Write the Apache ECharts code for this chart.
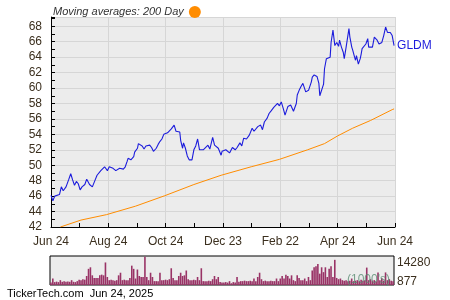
<!DOCTYPE html>
<html><head><meta charset="utf-8">
<script src="https://cdn.jsdelivr.net/npm/echarts@6/dist/echarts.min.js"></script>
<style>html,body{margin:0;padding:0;background:#fff}#c{width:450px;height:300px}</style>
</head><body><div id="c"></div>
<script>
// x axis tick labels (calendar days from 2024-06-24, one tick every 61 days)
const xTickLabels = ['Jun 24','Aug 24','Oct 24','Dec 23','Feb 22','Apr 24','Jun 24'];
// GLDM closing price: day offset from Jun 24 2024, value
const priceDays = [0,2,4,6,9,11,13,15,16,19,21,23,25,27,29,31,33,36,38,39,41,44,47,49,50,53,55,57,58,60,62,64,66,68,69,71,73,75,77,79,81,82,84,85,86,88,89,92,93,94,97,99,101,103,105,107,109,110,112,114,116,118,120,122,124,126,128,131,133,135,137,138,140,141,143,145,147,150,152,154,156,158,160,162,164,167,169,172,174,176,178,181,182,184,186,188,190,193,196,198,201,203,205,208,211,214,216,220,223,225,227,230,232,234,237,239,241,243,245,247,249,250,252,255,258,261,262,264,266,268,271,274,277,278,280,282,283,285,286,288,290,291,293,295,297,298,300,301,302,304,306,307,309,311,312,314,317,318,320,321,323,324,325,327,329,330,331,333,335,337,338,340,342,344,346,347,349,352,354,356,358,360,361,363,365];
const priceValues = [46.1,45.4,46.0,46.1,46.2,47.2,46.7,46.9,47.2,48.2,48.9,48.1,47.4,47.9,47.6,46.8,47.2,47.5,48.2,48.4,47.5,47.2,48.1,48.7,48.9,49.3,49.5,49.8,49.6,49.3,49.8,49.9,49.6,49.5,49.3,49.5,49.6,49.4,49.5,49.8,50.5,50.9,51.1,50.7,50.45,51.1,51.7,52.2,52.8,52.7,52.5,52.1,52.5,52.5,52.6,52.3,51.8,51.7,52.2,52.7,53.1,53.4,54.0,53.8,54.2,54.4,54.7,55.2,54.4,54.3,54.3,53.2,52.2,52.9,52.2,51.2,50.7,50.7,52.0,52.5,53.4,52.0,52.1,52.0,52.2,52.6,52.1,53.6,52.6,52.4,52.2,51.3,51.8,51.7,52.0,52.0,51.6,52.3,52.0,52.3,52.9,52.5,53.5,53.4,53.9,54.8,54.4,55.0,55.2,54.6,55.6,56.1,56.7,57.0,57.5,57.7,58.0,57.7,58.2,57.4,56.5,56.6,57.6,57.8,57.0,58.0,59.1,59.7,60.2,60.6,59.5,59.7,60.8,61.4,61.7,61.8,61.5,60.6,59.0,58.9,60.5,62.5,63.8,63.6,64.0,65.9,67.5,67.7,65.5,65.9,65.4,66.2,65.3,64.6,63.8,65.3,67.7,66.6,65.3,64.9,64.0,63.6,64.2,63.1,63.8,64.4,65.1,65.1,65.7,66.4,65.3,65.5,65.3,66.6,66.8,66.2,65.7,65.9,66.8,67.9,67.2,67.0,67.2,66.8,65.5];
// 200 day moving average
const maDays = [10,32,59,90,121,152,181,213,243,273,291,305,321,340,363,365];
const maValues = [42.0,42.9,43.6,44.7,46.05,47.5,48.7,49.8,50.76,52.0,52.8,53.8,54.8,55.8,57.2,57.3];
// volume (1000's), one bar per two calendar days
const volumes = [1315,3263,1461,1705,1461,2435,1607,1948,1607,1705,1607,2435,1607,1461,1948,2679,2435,2922,2679,4529,8133,8912,4870,3555,3555,3555,4870,5211,4870,11347,4042,2435,2679,2435,2192,2435,4870,6185,2435,2679,2435,2435,3555,9740,8133,3263,7792,4529,4042,4042,14280,4042,2435,6185,4042,1948,1948,1948,6185,2435,2435,2679,2435,2922,8425,3555,2435,2435,4529,6185,4529,4870,7305,2922,2435,2435,2679,2435,4042,2435,8425,1948,1948,1948,2192,1948,2922,4529,2922,4042,1461,1218,1218,1461,1218,1948,877,1461,1218,4042,1607,1948,1948,2192,1948,1948,2192,1948,3263,1948,4042,6185,2922,1948,2192,1948,1948,2192,1948,1948,3263,1948,3263,4529,3263,5211,4529,3263,4870,2435,1948,4870,3555,2435,2435,3263,1948,4042,2435,7305,8912,9399,10568,5698,8912,6477,8912,4042,8133,9399,4042,12662,3555,2922,3263,2435,2192,2435,1948,2192,3263,1948,2192,2435,1948,2679,2192,2435,8766,2435,2922,2192,2435,1948,6331,2435,3409,2192,6331,2435,2922,2192,1948];
const volLabels = ['14280','877'];

const FONT = '"Liberation Sans", Arial, sans-serif';
const TXT = '#3b2f1e';
const price = priceDays.map((d,i)=>[d, priceValues[i]]);
const ma = maDays.map((d,i)=>[d, maValues[i]]);
const volCats = volumes.map((v,i)=>String(i*2));

const chart = echarts.init(document.getElementById('c'), null, {renderer:'canvas'});
chart.setOption({
  animation:false,
  backgroundColor:'#ffffff',
  textStyle:{fontFamily:FONT},
  legend:{
    data:['200 Day'], left:48, top:1, align:'right', icon:'circle',
    itemWidth:12, itemHeight:12,
    formatter:'Moving averages: {name}',
    textStyle:{fontFamily:FONT, fontSize:11, fontStyle:'italic', color:'#333'}
  },
  grid:[
    {left:51, top:17, width:344, height:210, show:true, backgroundColor:'#ececec', borderWidth:0},
    {left:50, top:256, width:344, height:29, show:true, backgroundColor:'#ececec', borderColor:'#000', borderWidth:1}
  ],
  xAxis:[
    {type:'value', gridIndex:0, min:0, max:366, interval:61,
     axisLine:{show:true, lineStyle:{color:'#000', width:1}},
     axisTick:{show:true, inside:true, length:4, lineStyle:{color:'#000'}},
     minorTick:{show:true, splitNumber:2, length:4, lineStyle:{color:'#000'}},
     splitLine:{show:true, lineStyle:{color:'#d6d6d6', width:1}},
     axisLabel:{show:true, margin:9, fontSize:12, fontFamily:FONT, color:TXT,
       showMinLabel:true, showMaxLabel:true,
       formatter:(v)=>{const k=Math.round(v/61); return xTickLabels[k]||'';}}},
    {type:'category', gridIndex:1, data:volCats, boundaryGap:true,
     axisLine:{show:false}, axisTick:{show:false}, axisLabel:{show:false}, splitLine:{show:false}}
  ],
  yAxis:[
    {type:'value', gridIndex:0, min:42, max:69.2, interval:2,
     axisLine:{show:true, lineStyle:{color:'#000', width:1}},
     axisTick:{show:true, inside:true, length:4, lineStyle:{color:'#000'}},
     minorTick:{show:true, splitNumber:2, length:4, lineStyle:{color:'#000'}},
     splitLine:{show:true, lineStyle:{color:'#d6d6d6', width:1}},
     axisLabel:{margin:9, fontSize:12, fontFamily:FONT, color:TXT, showMaxLabel:false,
       formatter:(v)=> (Math.abs(v-Math.round(v))<1e-6 && Math.round(v)%2===0) ? String(Math.round(v)) : ''}},
    {type:'value', gridIndex:1, min:0, max:14600,
     axisLine:{show:false}, axisTick:{show:false}, axisLabel:{show:false}, splitLine:{show:false}}
  ],
  series:[
    {name:'GLDM', type:'line', xAxisIndex:0, yAxisIndex:0, data:price, showSymbol:false,
     lineStyle:{color:'#1c1cdc', width:1.1}, itemStyle:{color:'#1c1cdc'},
     endLabel:{show:true, formatter:'GLDM', color:'#1c1cdc', fontSize:12, fontFamily:FONT, distance:3}},
    {name:'200 Day', type:'line', xAxisIndex:0, yAxisIndex:0, data:ma, showSymbol:false,
     lineStyle:{color:'#ff8c00', width:1}, itemStyle:{color:'#ff8c00'}},
    {name:'Volume', type:'bar', xAxisIndex:1, yAxisIndex:1, data:volumes,
     barCategoryGap:'15%', itemStyle:{color:'#993366'}}
  ],
  graphic:[
    {type:'text', left:397, top:257, style:{text:volLabels[0], font:'12px '+FONT, fill:TXT}},
    {type:'text', left:397, top:276, style:{text:volLabels[1], font:'12px '+FONT, fill:TXT}},
    {type:'text', left:347, top:274, z:100, style:{text:"(1000's)", font:'12px '+FONT, fill:'rgba(90,140,115,0.8)'}},
    {type:'text', left:7, top:288, style:{text:'TickerTech.com  Jun 24, 2025', font:'11px '+FONT, fill:'#000'}}
  ]
});
</script></body></html>
